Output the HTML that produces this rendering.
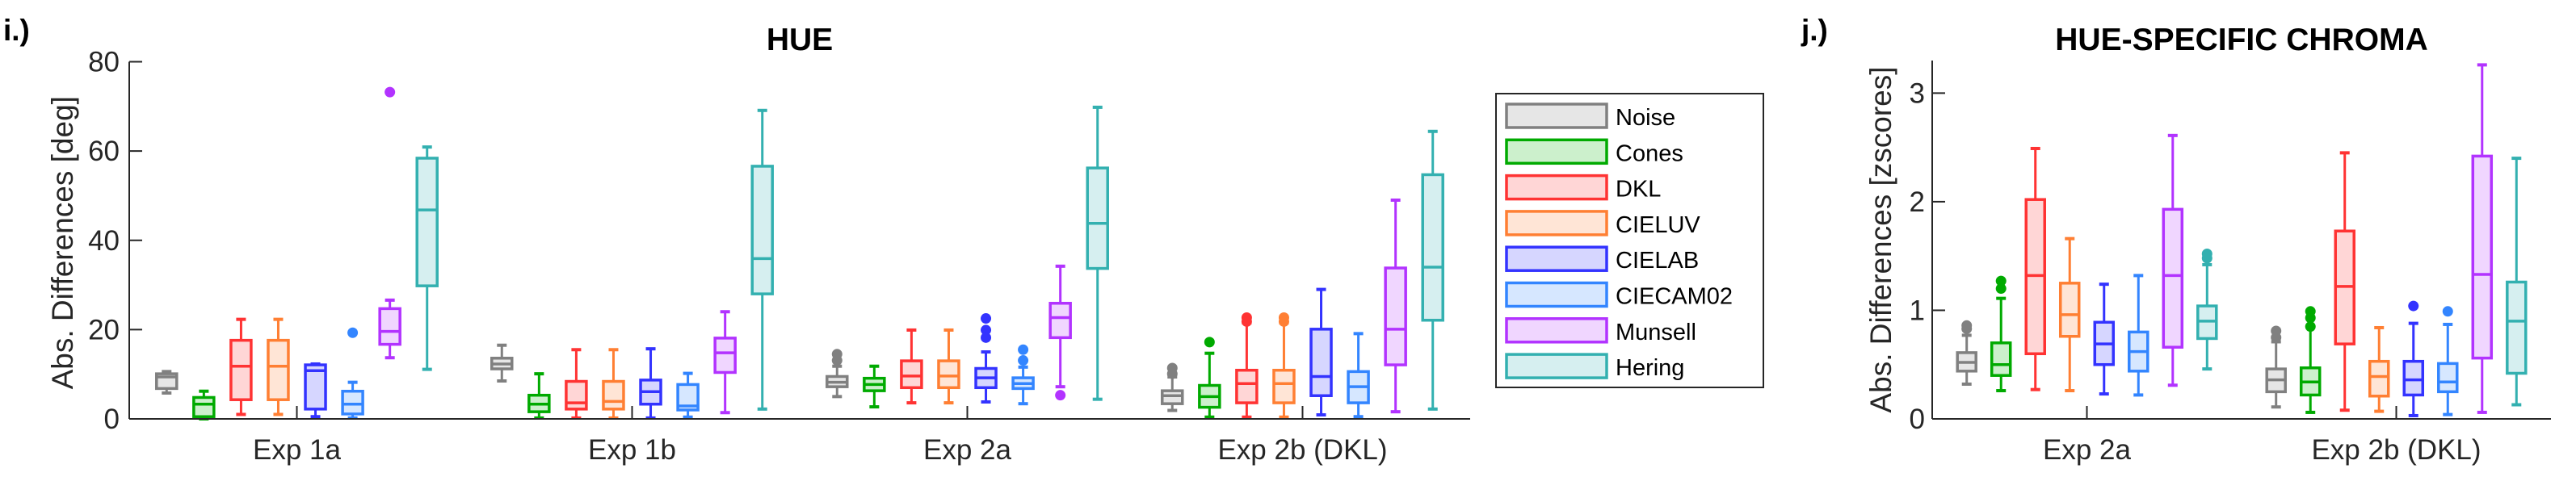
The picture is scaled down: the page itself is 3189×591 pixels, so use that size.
<!DOCTYPE html>
<html><head><meta charset="utf-8"><style>
html,body{margin:0;padding:0;background:#fff;}
svg{display:block;font-family:"Liberation Sans",Arial,sans-serif;}
</style></head><body>
<svg id="fig" width="3189" height="591" viewBox="0 0 3189 591" xmlns="http://www.w3.org/2000/svg">
<g id="panelI"></g>
<g id="panelJ"></g>
<g id="legend"></g>
</svg>
<script>
// ---- shared ----
const seriesNames = ["Noise","Cones","DKL","CIELUV","CIELAB","CIECAM02","Munsell","Hering"];
const seriesColors = ["#808080","#00aa00","#ff3333","#ff7f33","#3333ff","#3385ff","#b233ff","#33b0b0"];
const seriesFills = ["#e6e6e6","#ccf0cc","#ffd6d6","#ffe5d6","#d6d6ff","#d6e7ff","#f0d6ff","#d6eff0"];

// ---- Panel i: HUE ----  [series][group]
const hueCategories = ["Exp 1a","Exp 1b","Exp 2a","Exp 2b (DKL)"];
const hueYTicks = [0,20,40,60,80];
const hueLo = [[5.8,8.5,5.0,1.9],[0,0.2,2.7,0.4],[1.0,0.2,3.6,0.4],[1.0,0.2,3.6,0.4],[0.5,0.2,3.8,0.9],[0.2,0.4,3.4,0.5],[13.7,1.4,7.2,1.6],[11.1,2.2,4.4,2.2]];
const hueQ1 = [[6.8,11.2,7.2,3.4],[0.5,1.6,6.3,2.6],[4.3,2.2,7.0,3.6],[4.3,2.2,7.0,3.6],[2.2,3.3,7.0,5.2],[1.1,2.0,6.8,3.6],[16.7,10.4,18.2,12.1],[29.8,28.0,33.7,22.1]];
const hueMed = [[9.4,12.3,8.2,5.2],[3.3,3.3,7.7,5.0],[11.8,3.6,9.6,7.9],[11.8,3.9,9.6,7.9],[10.8,6.1,9.2,9.5],[3.3,2.9,7.9,7.2],[19.6,14.8,22.7,20.1],[46.8,35.9,43.8,34.0]];
const hueQ3 = [[10.1,13.6,9.5,6.3],[4.8,5.3,9.1,7.5],[17.6,8.4,13.0,10.9],[17.6,8.4,13.0,10.9],[12.1,8.7,11.3,20.1],[6.2,7.7,9.2,10.6],[24.7,18.1,25.9,33.8],[58.4,56.6,56.2,54.7]];
const hueHi = [[10.6,16.5,11.8,9.4],[6.2,10.1,11.8,14.7],[22.3,15.5,19.9,21.5],[22.3,15.5,19.9,21.5],[12.3,15.7,15.0,29.0],[8.2,10.2,11.6,19.1],[26.6,24.0,34.2,49.0],[60.9,69.1,69.8,64.4]];
const hueOutliers = [[[],[],[14.5,13.1],[11.4,10.1]],[[],[],[],[17.2]],[[],[],[],[22.7,21.8]],[[],[],[],[22.7,21.8]],[[],[],[22.5,19.9,18.2],[]],[[19.3],[],[15.5,13.1],[]],[[73.2],[],[5.3],[]],[[],[],[],[]]];

// ---- Panel j: HUE-SPECIFIC CHROMA ----
const chrCategories = ["Exp 2a","Exp 2b (DKL)"];
const chrYTicks = [0,1,2,3];
const chrLo = [[0.32,0.11],[0.26,0.06],[0.27,0.08],[0.26,0.07],[0.23,0.03],[0.22,0.04],[0.31,0.06],[0.46,0.13]];
const chrQ1 = [[0.44,0.25],[0.40,0.22],[0.60,0.69],[0.76,0.21],[0.50,0.22],[0.44,0.25],[0.66,0.56],[0.74,0.42]];
const chrMed = [[0.52,0.36],[0.50,0.34],[1.32,1.22],[0.96,0.39],[0.69,0.36],[0.62,0.34],[1.32,1.33],[0.90,0.90]];
const chrQ3 = [[0.61,0.46],[0.70,0.47],[2.02,1.73],[1.25,0.53],[0.89,0.53],[0.80,0.51],[1.93,2.42],[1.04,1.26]];
const chrHi = [[0.77,0.71],[1.11,0.85],[2.49,2.45],[1.66,0.84],[1.24,0.88],[1.32,0.87],[2.61,3.26],[1.42,2.40]];
const chrOutliers = [[[0.86,0.83],[0.81,0.75]],[[1.27,1.20],[0.99,0.93,0.85]],[[],[]],[[],[]],[[],[1.04]],[[],[0.99]],[[],[]],[[1.52,1.48],[]]];

const NS = "http://www.w3.org/2000/svg";
function mk(tag, attrs, parent){
  const e = document.createElementNS(NS, tag);
  for (const k in attrs) e.setAttribute(k, attrs[k]);
  parent.appendChild(e);
  return e;
}

function drawPanel(g, cfg){
  const {x0,x1,yBot,yTop,ymin,ymax,cats,ticks,lo,q1,med,q3,hi,out,boxW,title,label,tag,ylab,ylabX,tickLabX} = cfg;
  const nG = cats.length;
  const xs = v => x0 + (v - 0.5) / nG * (x1 - x0);
  const ys = v => yBot - (v - ymin) / (ymax - ymin) * (yBot - yTop);
  const step = (x1 - x0) / nG;
  const off = step * 0.111;

  // boxes
  for (let s = 0; s < lo.length; s++){
    const col = seriesColors[s];
    for (let c = 0; c < nG; c++){
      const cx = xs(c + 1) + (s - 3.5) * off;
      const grp = mk("g", {}, g);
      
      
      const cw = 6;
      mk("line",{x1:cx,x2:cx,y1:ys(hi[s][c]),y2:ys(q3[s][c]),stroke:col,"stroke-width":3},grp);
      mk("line",{x1:cx,x2:cx,y1:ys(q1[s][c]),y2:ys(lo[s][c]),stroke:col,"stroke-width":3},grp);
      mk("line",{x1:cx-cw,x2:cx+cw,y1:ys(hi[s][c]),y2:ys(hi[s][c]),stroke:col,"stroke-width":4},grp);
      mk("line",{x1:cx-cw,x2:cx+cw,y1:ys(lo[s][c]),y2:ys(lo[s][c]),stroke:col,"stroke-width":4},grp);
      mk("rect",{x:cx-boxW/2,y:ys(q3[s][c]),width:boxW,height:Math.max(1,ys(q1[s][c])-ys(q3[s][c])),fill:seriesFills[s],stroke:col,"stroke-width":3.5},grp);
      mk("line",{x1:cx-boxW/2,x2:cx+boxW/2,y1:ys(med[s][c]),y2:ys(med[s][c]),stroke:col,"stroke-width":3.5},grp);
      out[s][c].forEach(v => {
        const o = mk("ellipse",{cx:cx,cy:ys(v),rx:6.5,ry:6.5,fill:col},grp);
        
        
      });
    }
  }
  // axes
  const ax = mk("g", {}, g);
  
  
  mk("line",{x1:x0,x2:x0,y1:yTop,y2:yBot,stroke:"#262626","stroke-width":2},ax);
  mk("line",{x1:x0,x2:x1,y1:yBot,y2:yBot,stroke:"#262626","stroke-width":2},ax);
  ticks.forEach(t => {
    const y = ys(t);
    mk("line",{x1:x0,x2:x0+16,y1:y,y2:y,stroke:"#262626","stroke-width":2},ax);
    const tx = mk("text",{x:tickLabX,y:y+12,"text-anchor":"end","font-size":35,fill:"#262626"},ax);
    tx.textContent = t;
    
    
  });
  cats.forEach((c,i) => {
    const x = xs(i+1);
    mk("line",{x1:x,x2:x,y1:yBot,y2:yBot-16,stroke:"#262626","stroke-width":2},ax);
    const tx = mk("text",{x:x,y:569,"text-anchor":"middle","font-size":35,fill:"#262626"},ax);
    tx.textContent = c;
    
    
  });
  const yl = mk("text",{x:ylabX,y:(yTop+yBot)/2+ (cfg.ylOff||0),"text-anchor":"middle","font-size":37,fill:"#262626",transform:`rotate(-90 ${ylabX} ${(yTop+yBot)/2+(cfg.ylOff||0)})`},ax);
  yl.textContent = ylab;
  
  
  const tt = mk("text",{x:(x0+x1)/2,y:62,"text-anchor":"middle","font-size":39,"font-weight":"bold",fill:"#000"},g);
  tt.textContent = title;
  
  
  const pl = mk("text",{x:label[0],y:50,"font-size":37,"font-weight":"bold",fill:"#000"},g);
  pl.textContent = tag;
  
  
}

drawPanel(document.getElementById("panelI"), {
  x0:160,x1:1820,yBot:519,yTop:76.5,ymin:0,ymax:80,cats:hueCategories,ticks:hueYTicks,
  lo:hueLo,q1:hueQ1,med:hueMed,q3:hueQ3,hi:hueHi,out:hueOutliers,boxW:25,
  title:"HUE",label:[4],tag:"i.)",ylab:"Abs. Differences [deg]",ylabX:90,tickLabX:148,ylOff:3
});
drawPanel(document.getElementById("panelJ"), {
  x0:2392,x1:3158,yBot:519,yTop:75,ymin:0,ymax:3.3,cats:chrCategories,ticks:chrYTicks,
  lo:chrLo,q1:chrQ1,med:chrMed,q3:chrQ3,hi:chrHi,out:chrOutliers,boxW:23,
  title:"HUE-SPECIFIC CHROMA",label:[2230],tag:"j.)",ylab:"Abs. Differences [zscores]",ylabX:2341,tickLabX:2383,ylOff:0
});

// legend
const lg = document.getElementById("legend");
mk("rect",{x:1852,y:116,width:331,height:364,fill:"#fff",stroke:"#262626","stroke-width":2},lg);
seriesNames.forEach((n,i) => {
  const y = 129 + i*44.3;
  const e = mk("g",{},lg);
  
  
  mk("rect",{x:1865,y:y,width:124,height:29,fill:seriesFills[i],stroke:seriesColors[i],"stroke-width":3.5},e);
  const t = mk("text",{x:2000,y:y+26,"font-size":29,fill:"#000"},e);
  t.textContent = n;
});
</script>
</body></html>
